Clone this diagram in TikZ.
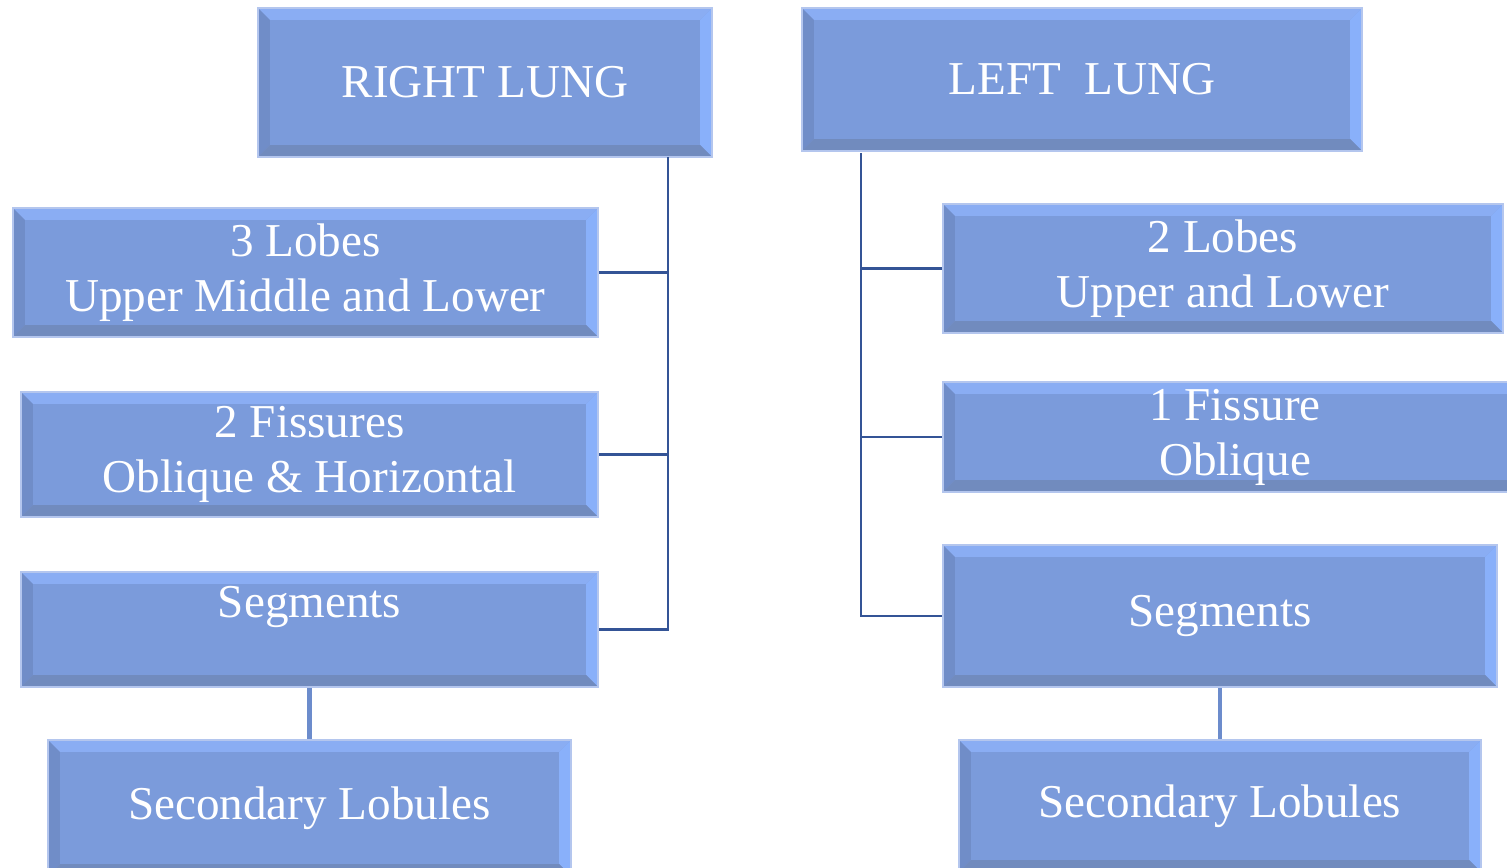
\documentclass[tikz,border=0pt]{standalone}
\usepackage{fontspec}
\setmainfont{Liberation Serif}
\definecolor{boxblue}{RGB}{123,155,219}
\definecolor{bevtop}{RGB}{138,173,243}
\definecolor{bevright}{RGB}{137,176,250}
\definecolor{bevleft}{RGB}{112,141,200}
\definecolor{bevbot}{RGB}{113,139,190}
\definecolor{glow}{RGB}{180,198,238}
\definecolor{linkblue}{RGB}{52,84,150}
\definecolor{stemblue}{RGB}{108,140,204}
\newcommand{\bevw}{0.12cm}
\tikzset{
  lungbox/.style={fill=boxblue, draw=glow, line width=0.7pt, text=white,
    align=center, inner sep=0pt, font=\fontsize{13.4}{15.6}\selectfont,
    path picture={
      \fill[bevtop] (path picture bounding box.north west) -- (path picture bounding box.north east)
        -- ([xshift=-\bevw,yshift=-\bevw]path picture bounding box.north east)
        -- ([xshift=\bevw,yshift=-\bevw]path picture bounding box.north west) -- cycle;
      \fill[bevright] (path picture bounding box.north east) -- (path picture bounding box.south east)
        -- ([xshift=-\bevw,yshift=\bevw]path picture bounding box.south east)
        -- ([xshift=-\bevw,yshift=-\bevw]path picture bounding box.north east) -- cycle;
      \fill[bevleft] (path picture bounding box.north west) -- (path picture bounding box.south west)
        -- ([xshift=\bevw,yshift=\bevw]path picture bounding box.south west)
        -- ([xshift=\bevw,yshift=-\bevw]path picture bounding box.north west) -- cycle;
      \fill[bevbot] (path picture bounding box.south west) -- (path picture bounding box.south east)
        -- ([xshift=-\bevw,yshift=\bevw]path picture bounding box.south east)
        -- ([xshift=\bevw,yshift=\bevw]path picture bounding box.south west) -- cycle;
    }},
  link/.style={draw=linkblue, line width=0.8pt},
  stem/.style={draw=stemblue, line width=1.2pt}
}
\begin{document}
\begin{tikzpicture}[x=0.01cm, y=-0.01cm]
\useasboundingbox (0,0) rectangle (1507,868);
% right lung
\node[lungbox, minimum width=4.54cm, minimum height=1.49cm] (rl) at (485,82.5) {RIGHT LUNG};
\node[lungbox, minimum width=5.85cm, minimum height=1.29cm] (rlobes) at (305.5,272.5) {3 Lobes\\Upper Middle and Lower};
\node[lungbox, minimum width=5.77cm, minimum height=1.25cm] (rfiss) at (309.5,454.5) {2 Fissures\\Oblique \& Horizontal};
\node[lungbox, minimum width=5.77cm, minimum height=1.15cm] (rseg) at (309.5,629.5) {Segments\\~};
\node[lungbox, minimum width=5.23cm, minimum height=1.36cm] (rsec) at (309.5,808) {Secondary Lobules};
% left lung
\node[lungbox, minimum width=5.6cm, minimum height=1.43cm] (ll) at (1082,79.5) {LEFT~ LUNG};
\node[lungbox, minimum width=5.6cm, minimum height=1.29cm] (llobes) at (1223,268.5) {2 Lobes\\Upper and Lower};
\node[lungbox, minimum width=5.84cm, minimum height=1.1cm] (lfiss) at (1235,437) {1 Fissure\\Oblique};
\node[lungbox, minimum width=5.54cm, minimum height=1.42cm] (lseg) at (1220,616) {Segments};
\node[lungbox, minimum width=5.22cm, minimum height=1.32cm] (lsec) at (1220,806) {Secondary Lobules};
% connectors
\coordinate (rtrunk) at (668,157);
\coordinate (ltrunk) at (861,153);
\draw[link] (rtrunk) |- (rseg.east);
\draw[link] (rlobes.east) -- (rlobes.east -| rtrunk);
\draw[link] (rfiss.east) -- (rfiss.east -| rtrunk);
\draw[link] (ltrunk) |- (lseg.west);
\draw[link] (llobes.west) -- (llobes.west -| ltrunk);
\draw[link] (lfiss.west) -- (lfiss.west -| ltrunk);
\draw[stem] (rseg.south) -- (rsec.north);
\draw[stem] (lseg.south) -- (lsec.north);
\end{tikzpicture}
\end{document}
